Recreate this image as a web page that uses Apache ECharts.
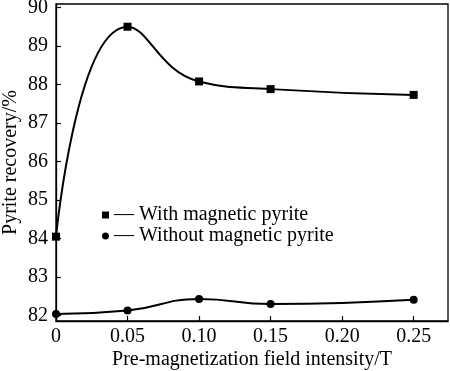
<!DOCTYPE html>
<html>
<head>
<meta charset="utf-8">
<script src="https://cdn.jsdelivr.net/npm/echarts@6/dist/echarts.min.js"></script>
<style>html,body{margin:0;padding:0;background:#fff}#c{width:450px;height:371px}</style>
</head>
<body>
<div id="c"></div>
<script>
var fieldT = [0, 0.05, 0.10, 0.15, 0.25];
var withMag = [84.05, 89.5, 88.08, 87.88, 87.73];
var withoutMag = [82.04, 82.13, 82.43, 82.3, 82.41];
var xTicks = [0, 0.05, 0.10, 0.15, 0.20, 0.25];
var yTicks = [82, 83, 84, 85, 86, 87, 88, 89, 90];
var seriesNames = ['With magnetic pyrite', 'Without magnetic pyrite'];
var xTitle = 'Pre-magnetization field intensity/T';
var yTitle = 'Pyrite recovery/%';

var FONT = 'Liberation Serif';
function pairs(xs, ys) { return xs.map(function (x, i) { return [x, ys[i]]; }); }

var chart = echarts.init(document.getElementById('c'), null, { renderer: 'canvas' });
chart.setOption({
  backgroundColor: '#fff',
  animation: false,
  grid: { left: 56, right: 2, top: 4, bottom: 50, outerBoundsMode: 'none', containLabel: false,
    show: true, borderColor: '#000', borderWidth: 1.3, backgroundColor: 'transparent' },
  xAxis: {
    type: 'value', min: 0, max: 0.274,
    name: xTitle, nameLocation: 'middle', nameGap: 29, nameMoveOverlap: false,
    nameTextStyle: { color: '#000', fontFamily: FONT, fontSize: 20 },
    axisLine: { lineStyle: { color: '#000', width: 1.3 } },
    axisTick: { inside: true, length: 5, customValues: xTicks, lineStyle: { color: '#000', width: 1.2 } },
    axisLabel: { customValues: xTicks, color: '#000', fontFamily: FONT, fontSize: 20, margin: 6,
      formatter: function (v) { return v === 0 ? '0' : v.toFixed(2); } },
    splitLine: { show: false }
  },
  yAxis: {
    type: 'value', min: 81.86, max: 90.09,
    name: yTitle, nameLocation: 'middle', nameGap: 35, nameMoveOverlap: false,
    nameTextStyle: { color: '#000', fontFamily: FONT, fontSize: 20 },
    axisLine: { lineStyle: { color: '#000', width: 1.3 } },
    axisTick: { inside: true, length: 5, customValues: yTicks, lineStyle: { color: '#000', width: 1.2 } },
    axisLabel: { customValues: yTicks, color: '#000', fontFamily: FONT, fontSize: 20, margin: 8 },
    splitLine: { show: false }
  },
  legend: {
    orient: 'vertical', left: 97, top: 200, itemGap: 1,
    itemWidth: 7, itemHeight: 7,
    textStyle: { color: '#000', fontFamily: FONT, fontSize: 20 },
    formatter: function (n) { return '\u2014 ' + n; },
    data: [{ name: seriesNames[0], icon: 'rect' }, { name: seriesNames[1], icon: 'circle' }]
  },
  series: [
    { name: seriesNames[0], type: 'line', smooth: 0.5, data: pairs(fieldT, withMag),
      symbol: 'rect', symbolSize: 8, itemStyle: { color: '#000' }, lineStyle: { color: '#000', width: 2 } },
    { name: seriesNames[1], type: 'line', smooth: 0.5, data: pairs(fieldT, withoutMag),
      symbol: 'circle', symbolSize: 8, itemStyle: { color: '#000' }, lineStyle: { color: '#000', width: 2 } }
  ]
});
</script>
</body>
</html>
